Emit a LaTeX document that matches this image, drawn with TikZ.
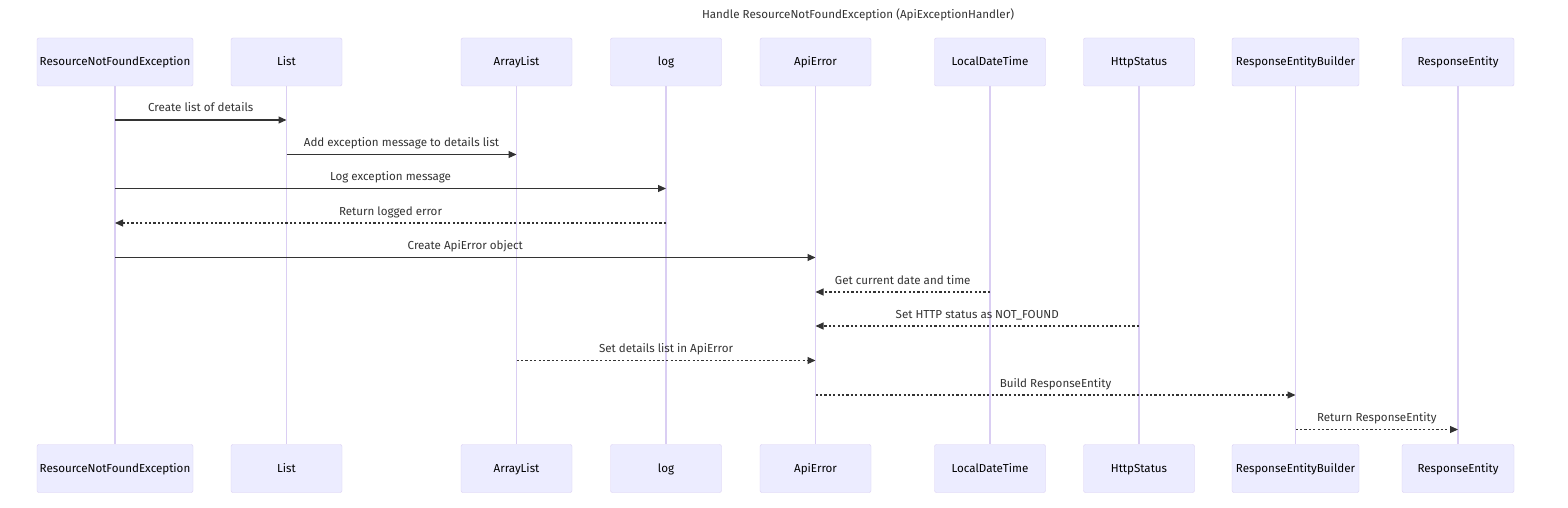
\documentclass[tikz,border=0pt]{standalone}
\usepackage{fontspec}
\setmainfont{Fira Sans}
\usetikzlibrary{arrows.meta}
\definecolor{actfill}{HTML}{ECECFF}
\definecolor{actline}{HTML}{DACEF3}
\definecolor{msg}{HTML}{333333}
\begin{document}
\begin{tikzpicture}[x=1pt,y=-1pt,
  actor/.style={draw=actline, fill=actfill, rounded corners=2pt, minimum height=48pt, inner sep=0pt, text height=10pt, text depth=2pt, font=\fontsize{11.6}{13}\selectfont, text=black},
  life/.style={draw=actline, line width=1.2pt},
  sync/.style={draw=msg, line width=1.1pt, -{Triangle[length=8pt,width=7pt]}},
  reply/.style={sync, dash pattern=on 2.2pt off 2.2pt},
  lbl/.style={font=\fontsize{11.6}{13}\selectfont, text=msg, inner sep=0pt, anchor=base, yshift=8pt}]
\useasboundingbox[fill=white] (0,0) rectangle (1568,508);
\node[font=\fontsize{11.6}{13}\selectfont, text=msg] (title) at (858,15) {Handle ResourceNotFoundException (ApiExceptionHandler)};
% actors (top and bottom)
\foreach \n/\x/\w/\t in {rnfe/115/156/ResourceNotFoundException, lst/286.5/111/List, alst/516.5/111/ArrayList, lg/666/111/log, api/815.5/111/ApiError, ldt/990/111/LocalDateTime, hs/1139/111/HttpStatus, reb/1295.5/127/ResponseEntityBuilder, re/1458/112/ResponseEntity}{
  \node[actor, minimum width=\w pt] (\n) at (\x,62) {\t};
  \node[actor, minimum width=\w pt] (\n B) at (\x,468.5) {\t};
}
% lifelines
\foreach \n in {rnfe,lst,alst,lg,api,ldt,hs,reb,re}{
  \draw[life] (\n.south) -- (\n B.north);
}
% message rows
\coordinate (m1) at (0,120);
\coordinate (m2) at (0,154.5);
\coordinate (m3) at (0,188.5);
\coordinate (m4) at (0,223);
\coordinate (m5) at (0,257.5);
\coordinate (m6) at (0,292);
\coordinate (m7) at (0,326);
\coordinate (m8) at (0,360.5);
\coordinate (m9) at (0,395);
\coordinate (m10) at (0,429.5);
\draw[sync] (rnfe |- m1) -- node[lbl]{Create list of details} (lst |- m1);
\draw[sync] (lst |- m2) -- node[lbl]{Add exception message to details list} (alst |- m2);
\draw[sync] (rnfe |- m3) -- node[lbl]{Log exception message} (lg |- m3);
\draw[reply] (lg |- m4) -- node[lbl]{Return logged error} (rnfe |- m4);
\draw[sync] (rnfe |- m5) -- node[lbl]{Create ApiError object} (api |- m5);
\draw[reply] (ldt |- m6) -- node[lbl]{Get current date and time} (api |- m6);
\draw[reply] (hs |- m7) -- node[lbl]{Set HTTP status as NOT\_FOUND} (api |- m7);
\draw[reply] (alst |- m8) -- node[lbl]{Set details list in ApiError} (api |- m8);
\draw[reply] (api |- m9) -- node[lbl]{Build ResponseEntity} (reb |- m9);
\draw[reply] (reb |- m10) -- node[lbl]{Return ResponseEntity} (re |- m10);
\end{tikzpicture}
\end{document}
